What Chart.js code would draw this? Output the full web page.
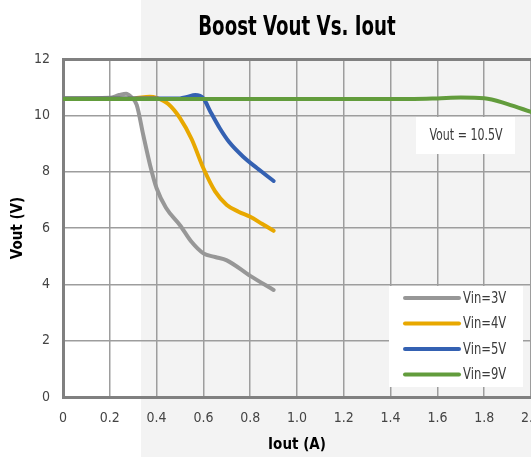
<!DOCTYPE html>
<html>
<head>
<meta charset="utf-8">
<script src="https://cdn.jsdelivr.net/npm/chart.js@4"></script>
<style>
  html, body { margin: 0; padding: 0; background: #fff; }
  #wrap { width: 531px; height: 457px; }
</style>
</head>
<body>
<div id="wrap"><canvas id="chart" width="531" height="457"></canvas></div>
<script>
// Données
const chartTitle = 'Boost Vout Vs. Iout';
const xTitle = 'Iout (A)';
const yTitle = 'Vout (V)';
const noteText = 'Vout = 10.5V';

const seriesNames = ['Vin=3V', 'Vin=4V', 'Vin=5V', 'Vin=9V'];
const seriesColors = ['#979797', '#e8a800', '#3461b2', '#629c3c'];

const iout3 = [0, 0.2, 0.24, 0.27, 0.29, 0.315, 0.343, 0.372, 0.4, 0.44, 0.5, 0.55, 0.6, 0.65, 0.7, 0.8, 0.9];
const vout3 = [10.6, 10.62, 10.72, 10.77, 10.66, 10.37, 9.3, 8.24, 7.41, 6.72, 6.1, 5.5, 5.1, 4.97, 4.85, 4.3, 3.8];

const iout4 = [0, 0.3, 0.37, 0.4, 0.45, 0.5, 0.55, 0.6, 0.65, 0.7, 0.75, 0.8, 0.85, 0.9];
const vout4 = [10.6, 10.6, 10.66, 10.62, 10.4, 9.9, 9.15, 8.12, 7.3, 6.82, 6.58, 6.4, 6.15, 5.9];

const iout5 = [0, 0.5, 0.53, 0.565, 0.6, 0.63, 0.67, 0.71, 0.77, 0.83, 0.9];
const vout5 = [10.6, 10.6, 10.65, 10.72, 10.6, 10.13, 9.54, 9.05, 8.53, 8.12, 7.67];

const iout9 = [0, 0.5, 1.0, 1.5, 1.6, 1.7, 1.8, 1.9, 2.0];
const vout9 = [10.58, 10.58, 10.58, 10.58, 10.6, 10.63, 10.61, 10.4, 10.12];

const xTicks = [0, 0.2, 0.4, 0.6, 0.8, 1, 1.2, 1.4, 1.6, 1.8, 2];

const FONT = "'DejaVu Sans Condensed', 'DejaVu Sans', sans-serif";

function toPoints(xs, ys) {
    return xs.map((x, i) => ({ x: x, y: ys[i] }));
}

const allX = [iout3, iout4, iout5, iout9];
const allY = [vout3, vout4, vout5, vout9];

const datasets = seriesNames.map((name, i) => ({
    label: name,
    data: toPoints(allX[i], allY[i]),
    borderColor: seriesColors[i],
    backgroundColor: seriesColors[i],
    borderWidth: 4,
    pointRadius: 0,
    cubicInterpolationMode: 'monotone',
    borderCapStyle: 'round',
    fill: false,
    order: seriesNames.length - 1 - i   // la courbe 9V passe devant
}));

// texte resserré (la police d'origine est étroite)
function narrowText(ctx, text, x, y, sx) {
    ctx.save();
    ctx.translate(x, y);
    ctx.scale(sx, 1);
    ctx.fillText(text, 0, 0);
    ctx.restore();
}

// fond gris clair (filigrane) à droite + titre
const backgroundPlugin = {
    id: 'bg',
    beforeDraw(chart) {
        const ctx = chart.ctx;
        ctx.save();
        ctx.fillStyle = '#ffffff';
        ctx.fillRect(0, 0, chart.width, chart.height);
        ctx.fillStyle = '#f3f3f3';
        ctx.fillRect(141, 0, chart.width - 141, chart.height);

        const area = chart.chartArea;
        ctx.fillStyle = '#000000';
        ctx.font = 'bold 27px ' + FONT;
        ctx.textAlign = 'center';
        ctx.textBaseline = 'alphabetic';
        narrowText(ctx, chartTitle, (area.left + area.right) / 2, 35, 0.75);
        ctx.restore();
    }
};

// légende et note dans la zone du graphique
const legendBoxPlugin = {
    id: 'legendBox',
    afterDatasetsDraw(chart) {
        const ctx = chart.ctx;
        ctx.save();

        // note Vout
        ctx.fillStyle = '#ffffff';
        ctx.fillRect(416, 117, 99, 37);
        ctx.fillStyle = '#3a3a3a';
        ctx.font = '15px ' + FONT;
        ctx.textAlign = 'center';
        ctx.textBaseline = 'middle';
        narrowText(ctx, noteText, 466, 136, 0.82);

        // légende
        ctx.fillStyle = '#ffffff';
        ctx.fillRect(389, 286, 134, 101);
        ctx.textAlign = 'left';
        chart.data.datasets.forEach((ds, i) => {
            const y = 298 + i * 25.5;
            ctx.strokeStyle = ds.borderColor;
            ctx.lineWidth = 4;
            ctx.lineCap = 'round';
            ctx.beginPath();
            ctx.moveTo(405, y);
            ctx.lineTo(459, y);
            ctx.stroke();
            ctx.fillStyle = '#3a3a3a';
            narrowText(ctx, ds.label, 463, y + 1, 0.86);
        });
        ctx.restore();
    }
};

const chart = new Chart(document.getElementById('chart'), {
    type: 'line',
    data: { datasets: datasets },
    plugins: [backgroundPlugin, legendBoxPlugin],
    options: {
        responsive: false,
        animation: false,
        layout: { padding: { top: 59, left: 0, right: 0, bottom: 0 } },
        plugins: {
            legend: { display: false },
            tooltip: { enabled: false },
            title: { display: false }
        },
        scales: {
            x: {
                type: 'linear',
                min: 0,
                max: 2,
                afterBuildTicks(scale) {
                    scale.ticks = xTicks.map(v => ({ value: v }));
                },
                afterFit(scale) {
                    scale.height = 60;
                    scale.paddingLeft = 0;
                    scale.paddingRight = 0;
                },
                grid: {
                    drawTicks: false,
                    color: '#9d9d9d',
                    lineWidth: 1.5
                },
                border: { color: '#808080', width: 3 },
                ticks: {
                    padding: 13,
                    color: '#444444',
                    font: { family: FONT, size: 14 },
                    maxRotation: 0,
                    autoSkip: false
                },
                title: {
                    display: true,
                    text: xTitle,
                    color: '#000000',
                    font: { family: FONT, size: 15, weight: 'bold', lineHeight: 1.2 },
                    padding: { top: 0, bottom: 3 }
                }
            },
            y: {
                type: 'linear',
                min: 0,
                max: 12,
                ticks: {
                    stepSize: 2,
                    padding: 13,
                    color: '#444444',
                    font: { family: FONT, size: 14 }
                },
                afterFit(scale) {
                    scale.width = 63;
                    scale.paddingTop = 0;
                    scale.paddingBottom = 0;
                },
                grid: {
                    drawTicks: false,
                    color: ctx => ctx.tick && ctx.tick.value === 12 ? '#808080' : '#9d9d9d',
                    lineWidth: ctx => ctx.tick && ctx.tick.value === 12 ? 3 : 1.5
                },
                border: { color: '#808080', width: 3 },
                title: {
                    display: true,
                    text: yTitle,
                    color: '#000000',
                    font: { family: FONT, size: 15, weight: 'bold', lineHeight: 1.2 },
                    padding: { top: 9, bottom: 0 }
                }
            }
        }
    }
});
</script>
</body>
</html>
